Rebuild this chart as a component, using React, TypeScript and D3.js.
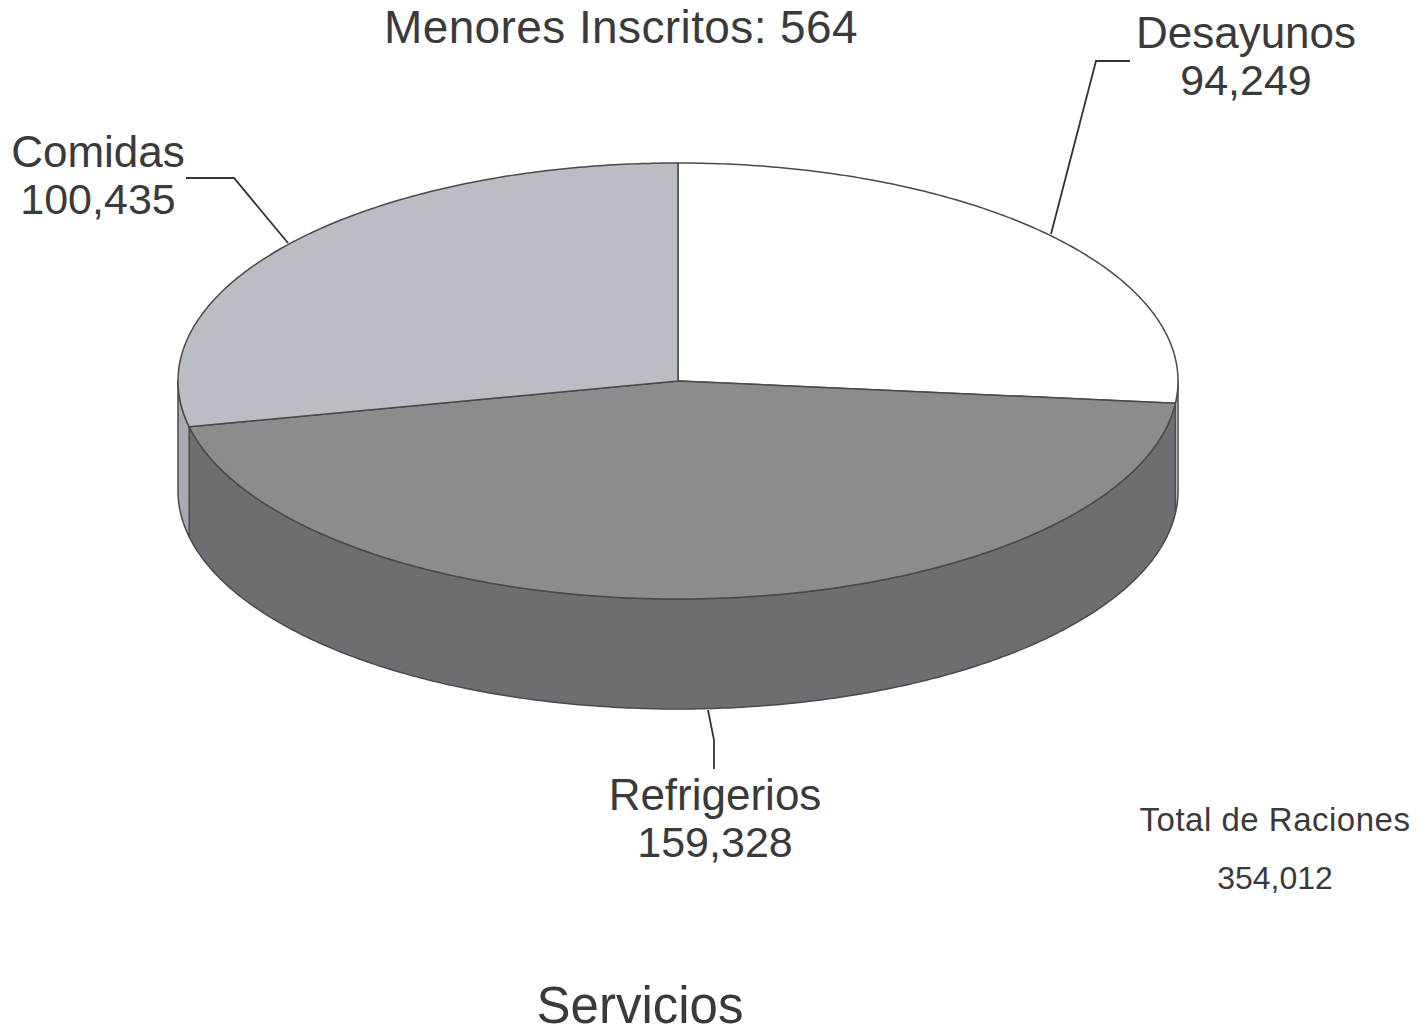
import React from 'react';
import * as d3 from 'd3';

// ---- data ----
const categories = ['Desayunos', 'Refrigerios', 'Comidas'];
const values = [94249, 159328, 100435];
const titleText = 'Menores Inscritos: 564';
const totalLabel = 'Total de Raciones';
const footerText = 'Servicios';

// ---- styles ----
const topColors = ['#ffffff', '#8b8c90', '#babdc4'];
const sideColors = ['#e4e4e4', '#6d6e72', '#a7aab0'];
const FONT = "'Liberation Sans', Arial, Helvetica, sans-serif";
const TEXT = '#3a3a3a';

const W = 1428;
const H = 1034;
const cx = 678;
const cy = 381;
const rx = 500;
const ry = 218;
const depth = 110;

const fmt = d3.format(',');

function pt(a: number, dy = 0): [number, number] {
  return [cx + rx * Math.sin(a), cy - ry * Math.cos(a) + dy];
}

function sample(a0: number, a1: number, dy = 0): [number, number][] {
  const n = Math.max(2, Math.ceil(Math.abs(a1 - a0) / 0.01));
  return d3.range(n + 1).map((i) => pt(a0 + ((a1 - a0) * i) / n, dy));
}

const line = d3.line<[number, number]>();

export default function App() {
  const pie = d3.pie<number>().sort(null).startAngle(0).endAngle(2 * Math.PI);
  const arcs = pie(values);
  const total = d3.sum(values);

  const tops = arcs.map((a) => {
    const pts: [number, number][] = [[cx, cy], ...sample(a.startAngle, a.endAngle)];
    return line(pts) + 'Z';
  });

  const sides = arcs.map((a) => {
    const s = Math.max(a.startAngle, Math.PI / 2);
    const e = Math.min(a.endAngle, (3 * Math.PI) / 2);
    if (e <= s) return null;
    const pts = [...sample(s, e), ...sample(e, s, depth)];
    return line(pts) + 'Z';
  });

  // label layout: [textX, baseline1, leader points]
  const labelLayout: { x: number; y: number; leader: [number, number][] }[] = [
    { x: 1246, y: 48, leader: [[1051, 234], [1096, 61], [1130, 61]] },
    { x: 715, y: 810, leader: [[708, 710], [714, 740], [714, 769]] },
    { x: 98, y: 167, leader: [[288, 243], [234, 178], [186, 178]] },
  ];

  return (
    <svg
      width={W}
      height={H}
      viewBox={`0 0 ${W} ${H}`}
      style={{ position: 'absolute', left: 0, top: 0, background: '#fff' }}
    >
      <rect width={W} height={H} fill="#fff" />
      <text x={621} y={43} textAnchor="middle" fontFamily={FONT} fontSize={46} fill={TEXT} letterSpacing={0.4}>
        {titleText}
      </text>

      {sides.map((d, i) =>
        d ? (
          <path key={'s' + i} d={d} fill={sideColors[i]} stroke="#4a4a4a" strokeWidth={1.5} strokeLinejoin="round" />
        ) : null
      )}
      {tops.map((d, i) => (
        <path key={'t' + i} d={d} fill={topColors[i]} stroke="#4a4a4a" strokeWidth={1.5} strokeLinejoin="round" />
      ))}

      {labelLayout.map((l, i) => (
        <g key={'l' + i}>
          <path d={line(l.leader) || ''} fill="none" stroke="#333" strokeWidth={1.8} />
          <text x={l.x} y={l.y} textAnchor="middle" fontFamily={FONT} fontSize={44} fill={TEXT}>
            {categories[i]}
          </text>
          <text x={l.x} y={l.y + 47} textAnchor="middle" fontFamily={FONT} fontSize={43} fill={TEXT}>
            {fmt(values[i])}
          </text>
        </g>
      ))}

      <text x={1275} y={831} textAnchor="middle" fontFamily={FONT} fontSize={33} fill={TEXT} letterSpacing={0.5}>
        {totalLabel}
      </text>
      <text x={1275} y={889} textAnchor="middle" fontFamily={FONT} fontSize={32} fill={TEXT}>
        {fmt(total)}
      </text>

      <text x={640} y={1023} textAnchor="middle" fontFamily={FONT} fontSize={51} fill={TEXT}>
        {footerText}
      </text>
    </svg>
  );
}
